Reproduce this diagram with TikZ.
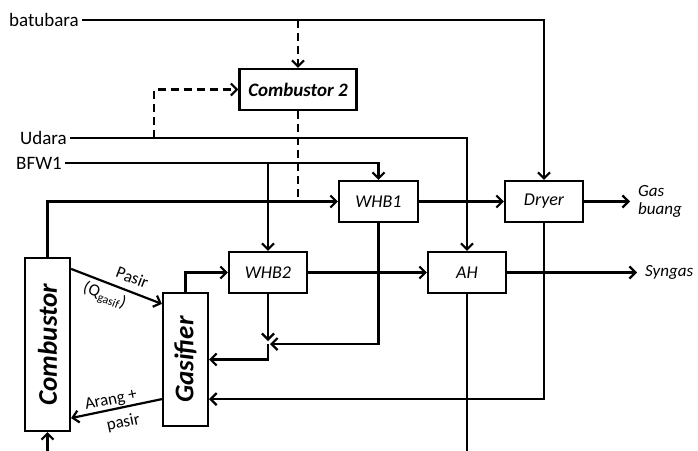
\documentclass[tikz,border=0pt]{standalone}
\usepackage{fontspec}
\setmainfont{Carlito}
\usetikzlibrary{arrows.meta}
\newcommand{\basefont}{\fontsize{19}{19}\selectfont}
\newcommand{\unitfont}{\fontsize{18}{18}\selectfont}
\newcommand{\tagfont}{\fontsize{17}{18}\selectfont}
\newcommand{\bigfont}{\fontsize{27}{30}\selectfont}
\tikzset{
  unit/.style={draw, line width=2.2pt, inner sep=0pt, font=\unitfont\itshape},
  reactor/.style={unit, minimum width=45pt, font=\bigfont\bfseries\itshape},
  flow/.style={->, line width=2.2pt, >={Straight Barb[length=6pt,width=12pt]}},
  pipe/.style={line width=2.2pt},
  aux/.style={dash pattern=on 8pt off 5pt},
  feed/.style={anchor=east, inner sep=3pt, font=\basefont},
  product/.style={anchor=west, inner xsep=8pt, font=\tagfont\itshape, align=left},
  tag/.style={font=\tagfont, inner sep=2pt},
}
\begin{document}
\begin{tikzpicture}[x=1pt, y=-1pt]
  \useasboundingbox (0,0) rectangle (698,450);
  % units
  \node[unit, minimum width=117pt, minimum height=41pt, font=\basefont\bfseries\itshape] (comb2) at (298,89.5) {Combustor 2};
  \node[reactor, minimum height=173pt] (comb) at (47.5,344.5) {\rotatebox{90}{Combustor}};
  \node[reactor, minimum height=133pt] (gasif) at (185.5,359.5) {\rotatebox{90}{Gasifier}};
  \node[unit, minimum width=79pt, minimum height=41pt] (whb1) at (378.5,201.5) {WHB1};
  \node[unit, minimum width=78pt, minimum height=41pt] (whb2) at (268,272.5) {WHB2};
  \node[unit, minimum width=78pt, minimum height=41pt] (ah) at (467,272.5) {AH};
  \node[unit, minimum width=78pt, minimum height=41pt] (dryer) at (544,201.5) {Dryer};
  % feeds and products
  \node[feed] (batubara) at (82,20) {batubara};
  \node[feed] (udara) at (70,138) {Udara};
  \node[feed] (bfw) at (65,163) {BFW1};
  \node[product] (gasbuang) at (630,201.5) {Gas\\buang};
  \node[product] (syngas) at (637,272.5) {Syngas};
  \coordinate (bbtap) at (298,20);
  \coordinate (udtap) at (154,138);
  \coordinate (bftap) at (268,163);
  \coordinate (mix) at (268,344);
  \coordinate (ahout) at (467,452);
  \coordinate (combin) at (47.5,452);
  % streams
  \draw[flow] (batubara.east) -| (dryer.north);
  \draw[flow, aux] (bbtap) -- (comb2.north);
  \draw[flow] (udara.east) -| (ah.north);
  \draw[flow, aux] (udtap) |- (comb2.west);
  \draw[flow] (bfw.east) -| (whb1.north);
  \draw[flow] (bftap) -- (whb2.north);
  \draw[flow] (comb.north) |- (whb1.west);
  \draw[pipe, aux] (comb2.south) -- (comb2.south |- whb1.west);
  \draw[flow] ([yshift=-12pt]comb.north east) --
    node[tag, sloped, above, pos=0.62, inner sep=7pt] {Pasir}
    node[tag, sloped, below, pos=0.42, inner sep=4pt] {(Q\textsubscript{gasif})}
    ([yshift=-12pt]gasif.north west);
  \draw[flow] ([yshift=28pt]gasif.south west) --
    node[tag, sloped, above, pos=0.54, inner sep=1pt] {Arang +}
    node[tag, sloped, below, pos=0.46, inner sep=7pt] {pasir}
    ([yshift=14pt]comb.south east);
  \draw[flow] (gasif.north) |- (whb2.west);
  \draw[flow] (whb2.east) -- (ah.west);
  \draw[flow] (ah.east) -- (syngas.west);
  \draw[flow] (whb1.east) -- (dryer.west);
  \draw[flow] (dryer.east) -- (gasbuang.west);
  \draw[flow] (whb2.south) -- ([yshift=3pt]mix);
  \draw[flow] (whb1.south) |- ([xshift=2pt]mix);
  \draw[flow] (mix) |- (gasif.east);
  \draw[flow] (dryer.south) |- ([yshift=28pt]gasif.south east);
  \draw[pipe] (ah.south) -- (ahout);
  \draw[flow] (combin) -- (comb.south);
\end{tikzpicture}
\end{document}
